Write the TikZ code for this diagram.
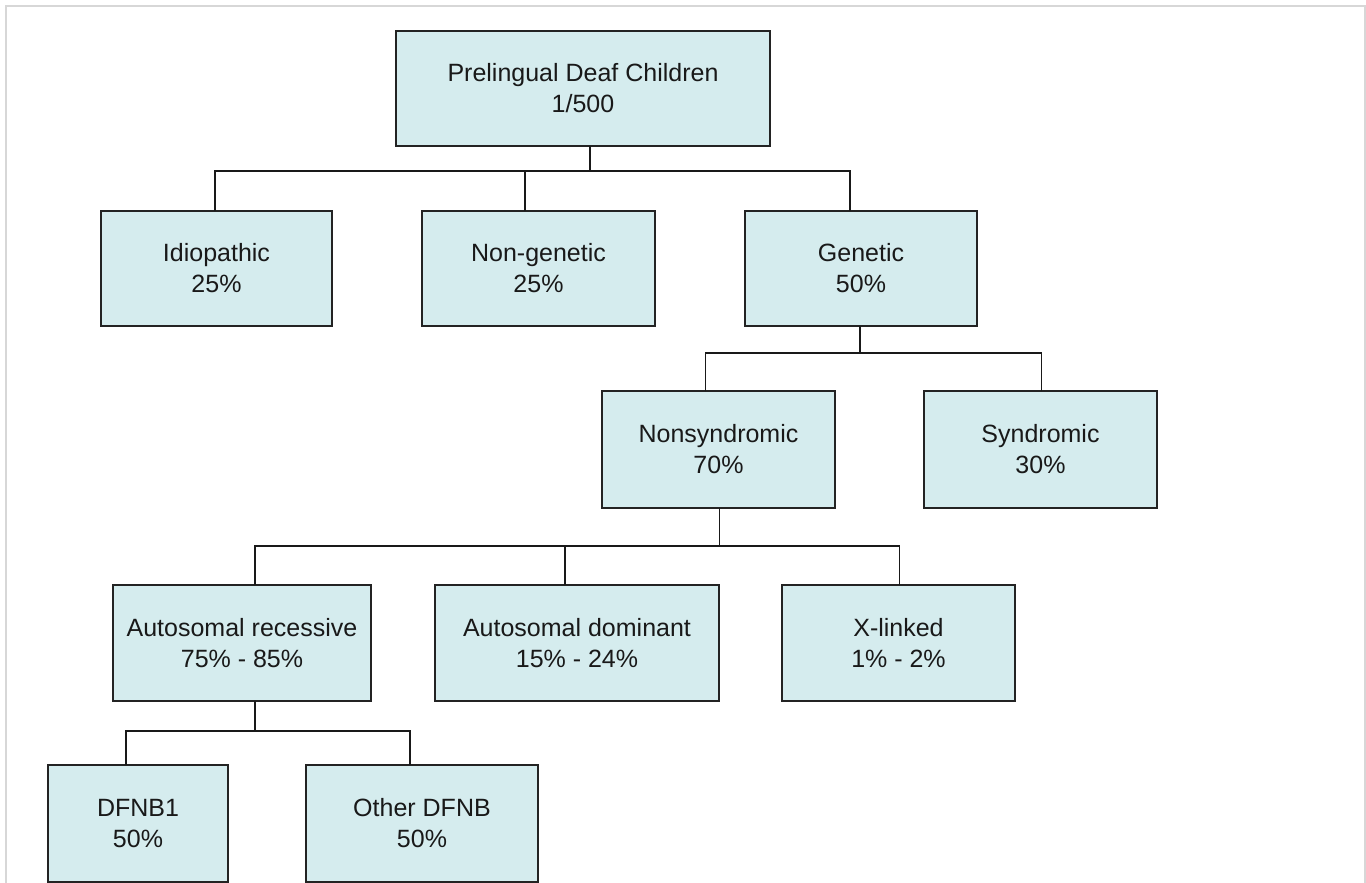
\documentclass[tikz,border=0pt]{standalone}
\usepackage{fontspec}
\setmainfont{Liberation Sans}
\definecolor{boxfill}{RGB}{213,236,238}
\definecolor{boxline}{RGB}{35,35,35}
\definecolor{framegray}{RGB}{215,215,215}
\tikzset{
  orgbox/.style={draw=boxline, fill=boxfill, line width=1.4pt, inner sep=0pt, outer sep=0pt,
    align=center, font=\fontsize{25}{31}\selectfont, text=black!90},
  link/.style={draw=black!90, line width=1.4pt}
}
\begin{document}
\begin{tikzpicture}[x=1pt,y=-1pt]
\useasboundingbox (0,0) rectangle (1366,883);
% outer page frame
\draw[framegray, line width=1.5pt] (6,890) -- (6,6) -- (1365,6) -- (1365,890);

% level 0
\node[orgbox, minimum width=374pt, minimum height=115pt] (root) at (583,88.5) {Prelingual Deaf Children\\1/500};
% level 1
\node[orgbox, minimum width=231pt, minimum height=115pt] (idio) at (216.5,268.5) {Idiopathic\\25\%};
\node[orgbox, minimum width=233pt, minimum height=115pt] (nongen) at (538.5,268.5) {Non-genetic\\25\%};
\node[orgbox, minimum width=232pt, minimum height=115pt] (gen) at (861,268.5) {Genetic\\50\%};
% level 2
\node[orgbox, minimum width=233pt, minimum height=117pt] (nonsyn) at (718.5,449.5) {Nonsyndromic\\70\%};
\node[orgbox, minimum width=233pt, minimum height=117pt] (syn) at (1040.5,449.5) {Syndromic\\30\%};
% level 3
\node[orgbox, minimum width=258pt, minimum height=116pt] (ar) at (242,643) {Autosomal recessive\\75\% - 85\%};
\node[orgbox, minimum width=284pt, minimum height=116pt] (ad) at (577,643) {Autosomal dominant\\15\% - 24\%};
\node[orgbox, minimum width=233pt, minimum height=116pt] (xl) at (898.5,643) {X-linked\\1\% - 2\%};
% level 4
\node[orgbox, minimum width=180pt, minimum height=117pt] (dfnb1) at (138,823.5) {DFNB1\\50\%};
\node[orgbox, minimum width=232pt, minimum height=117pt] (other) at (422,823.5) {Other DFNB\\50\%};

% connectors: root -> level 1
\draw[link] ([xshift=7]root.south) -- ++(0,25);
\draw[link] ([xshift=-1.5]idio.north) -- ++(0,-40) -| ([xshift=-11]gen.north);
\draw[link] ([xshift=-13.5]nongen.north) -- ++(0,-40);
% genetic -> level 2
\draw[link] ([xshift=-1]gen.south) -- ++(0,27);
\draw[link] ([xshift=-13]nonsyn.north) -- ++(0,-38) -| ([xshift=1]syn.north);
% nonsyndromic -> level 3
\draw[link] ([xshift=1]nonsyn.south) -- ++(0,38);
\draw[link] ([xshift=13]ar.north) -- ++(0,-39) -| ([xshift=1]xl.north);
\draw[link] ([xshift=-12]ad.north) -- ++(0,-39);
% autosomal recessive -> level 4
\draw[link] ([xshift=13]ar.south) -- ++(0,30);
\draw[link] ([xshift=-12]dfnb1.north) -- ++(0,-34) -| ([xshift=-12]other.north);
\end{tikzpicture}
\end{document}
